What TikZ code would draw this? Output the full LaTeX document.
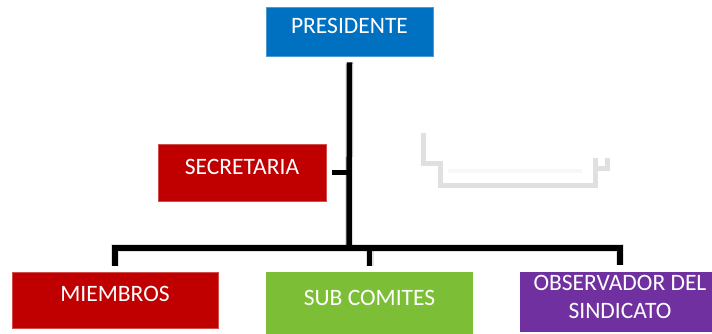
\documentclass[tikz,border=0pt]{standalone}
\usepackage{fontspec}
\setmainfont{Carlito}
\definecolor{presblue}{HTML}{0070C0}
\definecolor{darkred}{HTML}{C00000}
\definecolor{leafgreen}{HTML}{7CBF36}
\definecolor{violet}{HTML}{7030A0}
\definecolor{ghost}{HTML}{E0E0E0}
\definecolor{ghostlight}{HTML}{F7F7F7}
\begin{document}
\begin{tikzpicture}[x=1pt,y=-1pt,
  orgbox/.style={rectangle,inner sep=0pt,text=white,align=center,
    font=\fontsize{23.5}{28}\selectfont},
  conn/.style={line width=5.5pt,black,line cap=butt,line join=miter},
  connshadow/.style={line width=8pt,black,opacity=0.12},
  ghostline/.style={line width=5pt,ghost,line join=miter}]
\useasboundingbox (0,0) rectangle (712,333);
\fill[white] (0,0) rectangle (712,333);
% faint gray bracket
\draw[ghostline] (423,133) -- (423,163) -- (440,163) -- (440,185) -- (595,185) -- (595,158);
\draw[ghostline] (595,168) -- (607,168) -- (607,158);
\draw[line width=4pt,ghostlight] (448,171) -- (582,171);
% boxes
\node[orgbox,fill=presblue,draw=presblue!70!white,line width=0.6pt,
  minimum width=167pt,minimum height=49pt,text height=17pt,text depth=14pt]
  (pres) at (349.5,31.5) {PRESIDENTE};
\node[orgbox,fill=darkred,draw=darkred!70!white,line width=0.6pt,
  minimum width=168pt,minimum height=57pt,text height=17pt,text depth=14pt]
  (sec) at (242,172.5) {SECRETARIA};
\node[orgbox,fill=darkred,draw=darkred!70!white,line width=0.6pt,
  minimum width=206pt,minimum height=56pt,text height=17pt,text depth=15pt]
  (miem) at (115,300) {MIEMBROS};
\node[orgbox,fill=leafgreen,minimum width=207pt,minimum height=62pt,
  text height=17pt,text depth=13pt]
  (sub) at (369.5,303) {SUB COMITES};
\node[orgbox,fill=violet,minimum width=200pt,minimum height=60pt,
  text height=43pt,text depth=11pt]
  (obs) at (620,302) {OBSERVADOR DEL\\SINDICATO};
% connectors
\coordinate (bus) at (349,248);
\begin{scope}[xshift=1.5pt,yshift=-1.5pt]
\draw[connshadow] ([yshift=-6pt]pres.south) -- (bus);
\draw[connshadow] ([yshift=6pt]miem.north) -- (miem.north |- bus) -- (obs.north |- bus) -- ([yshift=7pt]obs.north);
\draw[connshadow] (sub.north |- bus) -- ([yshift=6pt]sub.north);
\end{scope}
\draw[conn] ([yshift=-6pt]pres.south) -- (bus);
\draw[conn] ([yshift=6pt]miem.north) -- (miem.north |- bus) -- (obs.north |- bus) -- ([yshift=7pt]obs.north);
\draw[conn] (sub.north |- bus) -- ([yshift=6pt]sub.north);
\draw[conn] ([xshift=6pt]sec.east) -- (sec.east -| bus);
\end{tikzpicture}
\end{document}
